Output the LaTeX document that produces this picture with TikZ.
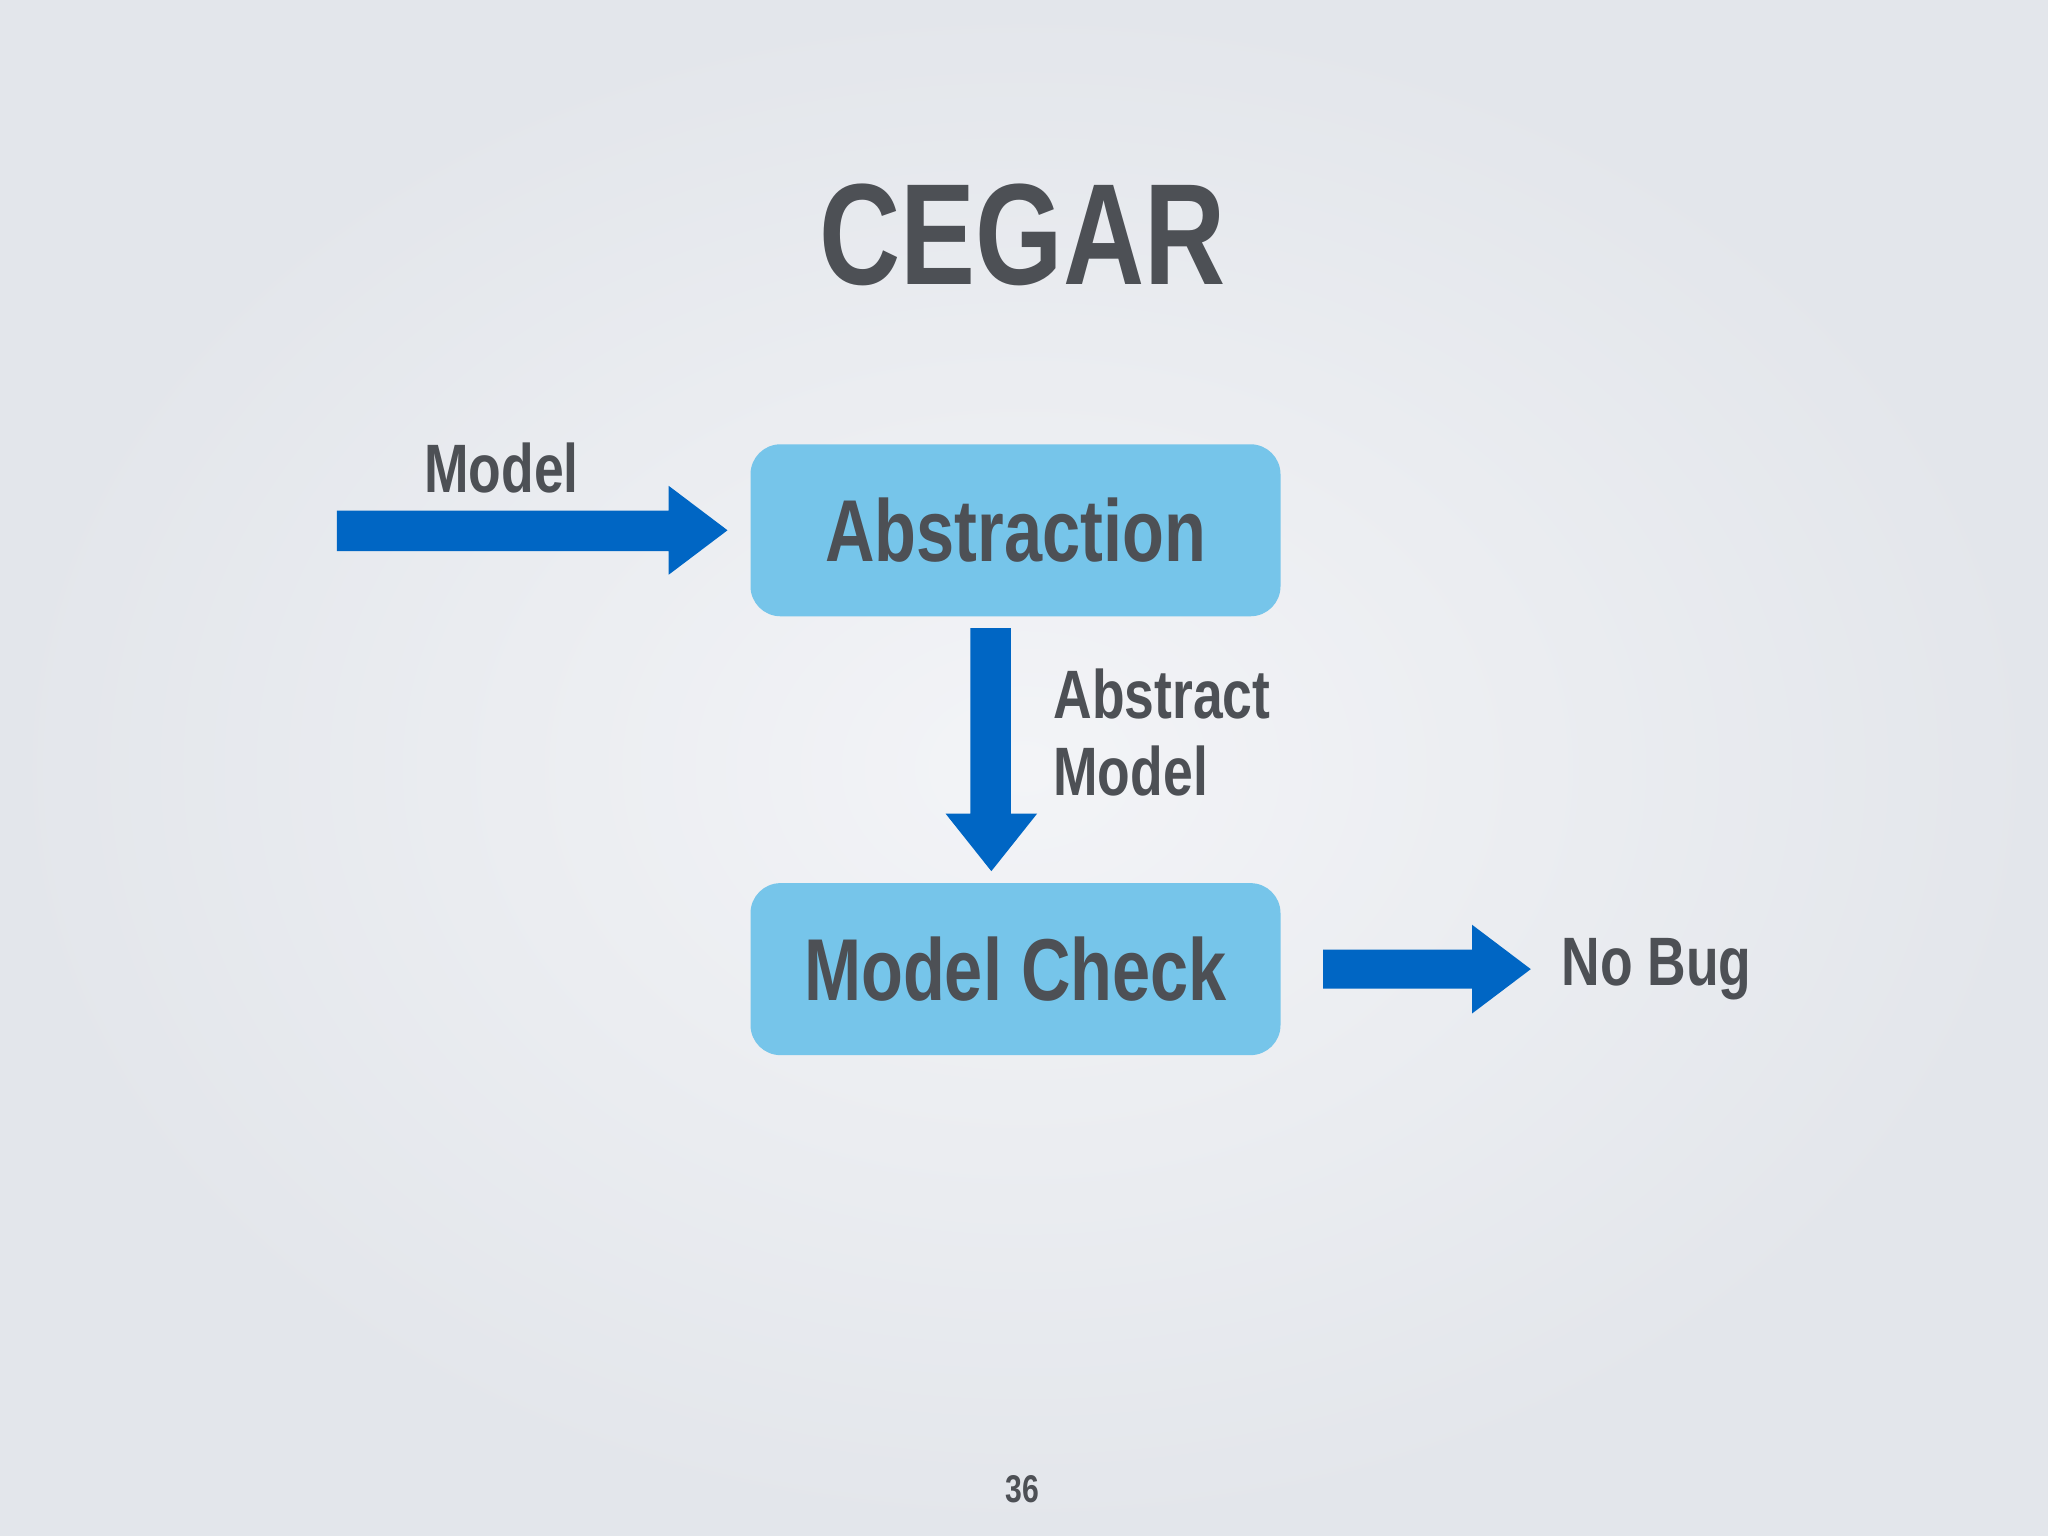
\documentclass[tikz,border=0pt]{standalone}
\usepackage{fontspec}
\setmainfont{Liberation Sans}[FakeStretch=0.78]
\definecolor{boxc}{HTML}{76C5EA}
\definecolor{arr}{HTML}{0066C4}
\definecolor{txt}{HTML}{4D5055}
\definecolor{bgin}{HTML}{F3F4F7}
\definecolor{bgout}{HTML}{E3E6EB}
\begin{document}
\begin{tikzpicture}[x=0.01306cm,y=-0.01306cm,
  box/.style={fill=boxc,rounded corners=0.3cm,minimum width=5.3cm,minimum height=1.72cm,text=txt,font=\bfseries\fontsize{25}{30}\selectfont},
  lbl/.style={text=txt,font=\bfseries\fontsize{19.5}{24}\selectfont,inner sep=0pt}]
\useasboundingbox (0,0) rectangle (1568,1176);
\shade[inner color=bgin,outer color=bgout] (0,0) rectangle (1568,1176);
\node[text=txt,font=\bfseries\fontsize{41}{48}\selectfont] (title) at (783,180) {CEGAR};
\node[box] (abs) at (777.5,406) {Abstraction};
\node[box] (mc) at (777.5,742) {Model Check};
\fill[arr] (258,391) -- (512,391) -- (512,372) -- (557,406) -- (512,440) -- (512,422) -- (258,422) -- cycle;
\fill[arr] (743,481) -- (774,481) -- (774,623) -- (794,623) -- (759,667) -- (724,623) -- (743,623) -- cycle;
\fill[arr] (1013,727) -- (1127,727) -- (1127,708) -- (1172,742) -- (1127,776) -- (1127,757) -- (1013,757) -- cycle;
\node[lbl] (m1) at (384,358) {Model};
\node[lbl,anchor=west] (am1) at (806,531) {Abstract};
\node[lbl,anchor=west] (am2) at (806,590) {Model};
\node[lbl,anchor=west] (nb) at (1195,742) {No Bug};
\node[text=txt,font=\bfseries\fontsize{11}{13}\selectfont] (pg) at (783,1140) {36};
\end{tikzpicture}
\end{document}
